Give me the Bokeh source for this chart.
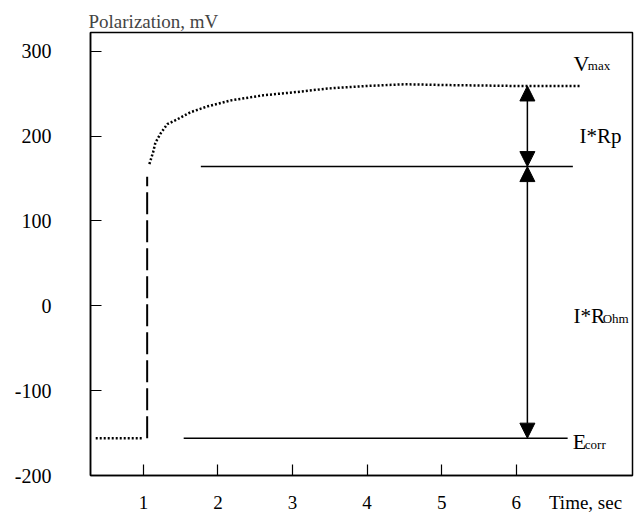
from bokeh.plotting import figure
from bokeh.models import Label, Arrow, NormalHead, FixedTicker, Range1d
from bokeh.embed import file_html
from bokeh.resources import INLINE

# ---- data ----
base_t = [0.36, 1.0]
base_v = [-156, -156]
jump_t = [1.05, 1.05]
jump_v = [-156, 152]
curve_t = [1.08, 1.13, 1.16, 1.23, 1.32, 1.46, 1.63, 1.86, 2.17, 2.61, 3.07, 3.47, 4.0, 4.5, 5.12, 6.0, 6.87]
curve_v = [167, 181, 192, 203, 214, 220, 228, 235, 242, 248, 252, 256, 259, 261, 260, 259, 259]
rline_t = [1.77, 6.76]
rline_v = [164, 164]
ecorr_t = [1.54, 6.69]
ecorr_v = [-156, -156]
arrow_t = 6.15
vmax_v = 259
mid_v = 164
ecorr_level = -156
x_ticks = [1, 2, 3, 4, 5, 6]
x_title_pos = 6.93
y_ticks = [-200, -100, 0, 100, 200, 300]

SERIF = "Liberation Serif"

p = figure(width=641, height=515,
           x_range=Range1d(0.29, 7.56), y_range=Range1d(-200, 322),
           output_backend="svg", toolbar_location=None,
           min_border_left=90, min_border_right=9, min_border_top=32, min_border_bottom=40)

p.title.text = "Polarization, mV"
p.title.align = "left"
p.title.text_font = SERIF
p.title.text_font_size = "19px"
p.title.text_font_style = "normal"
p.title.standoff = 2
p.title.offset = -2

p.grid.visible = False
p.background_fill_color = "white"
p.border_fill_color = "white"
p.outline_line_color = "black"
p.outline_line_width = 1.5

# x axis: tick marks are drawn as (minor) marks at 1..6, labels at 1..6 plus the axis title
xa = p.xaxis[0]
xa.ticker = FixedTicker(ticks=x_ticks + [x_title_pos], minor_ticks=x_ticks)
xa.major_label_overrides = {x_title_pos: "Time, sec"}
xa.axis_line_color = "black"
xa.axis_line_width = 1.5
xa.major_tick_line_color = None
xa.major_tick_in = 0
xa.major_tick_out = 0
xa.minor_tick_line_color = "black"
xa.minor_tick_line_width = 1.2
xa.minor_tick_in = 11
xa.minor_tick_out = 0
xa.major_label_text_font = SERIF
xa.major_label_text_font_size = "19px"
xa.major_label_text_color = "black"
xa.major_label_standoff = 16

ya = p.yaxis[0]
ya.ticker = FixedTicker(ticks=y_ticks)
ya.major_label_overrides = {t: str(t) for t in y_ticks}
ya.axis_line_color = "black"
ya.axis_line_width = 1.5
ya.major_tick_line_color = "black"
ya.major_tick_line_width = 1.2
ya.minor_tick_line_color = None
ya.major_tick_in = 11
ya.major_tick_out = 0
ya.major_label_text_font = SERIF
ya.major_label_text_font_size = "20px"
ya.major_label_text_color = "black"
ya.major_label_standoff = 39

# curves
p.line(base_t, base_v, line_color="black", line_width=2.5, line_dash="2 2")
p.line(jump_t, jump_v, line_color="black", line_width=2, line_dash="22 6")
p.line(curve_t, curve_v, line_color="black", line_width=2.5, line_dash="2 2")
p.line(rline_t, rline_v, line_color="black", line_width=1.5)
p.line(ecorr_t, ecorr_v, line_color="black", line_width=1.5)

# arrows
for y0, y1 in [(mid_v, vmax_v), (mid_v, ecorr_level)]:
    p.add_layout(Arrow(x_start=arrow_t, y_start=y0, x_end=arrow_t, y_end=y1,
                       line_color="black", line_width=1.5,
                       start=NormalHead(size=15, fill_color="black", line_color="black"),
                       end=NormalHead(size=15, fill_color="black", line_color="black")))

def lab(x, y, text, size):
    p.add_layout(Label(x=x, y=y, text=text, text_font=SERIF, text_font_size=size,
                       text_color="black", text_baseline="alphabetic"))

lab(6.77, 286, "V", "22px")
lab(6.96, 283, "max", "13px")
lab(6.85, 200, "I*Rp", "21px")
lab(6.77, -12, "I*R", "21px")
lab(7.16, -15, "Ohm", "13px")
lab(6.76, -160, "E", "22px")
lab(6.92, -163, "corr", "13px")

open("out.html", "w").write(file_html(p, INLINE))
